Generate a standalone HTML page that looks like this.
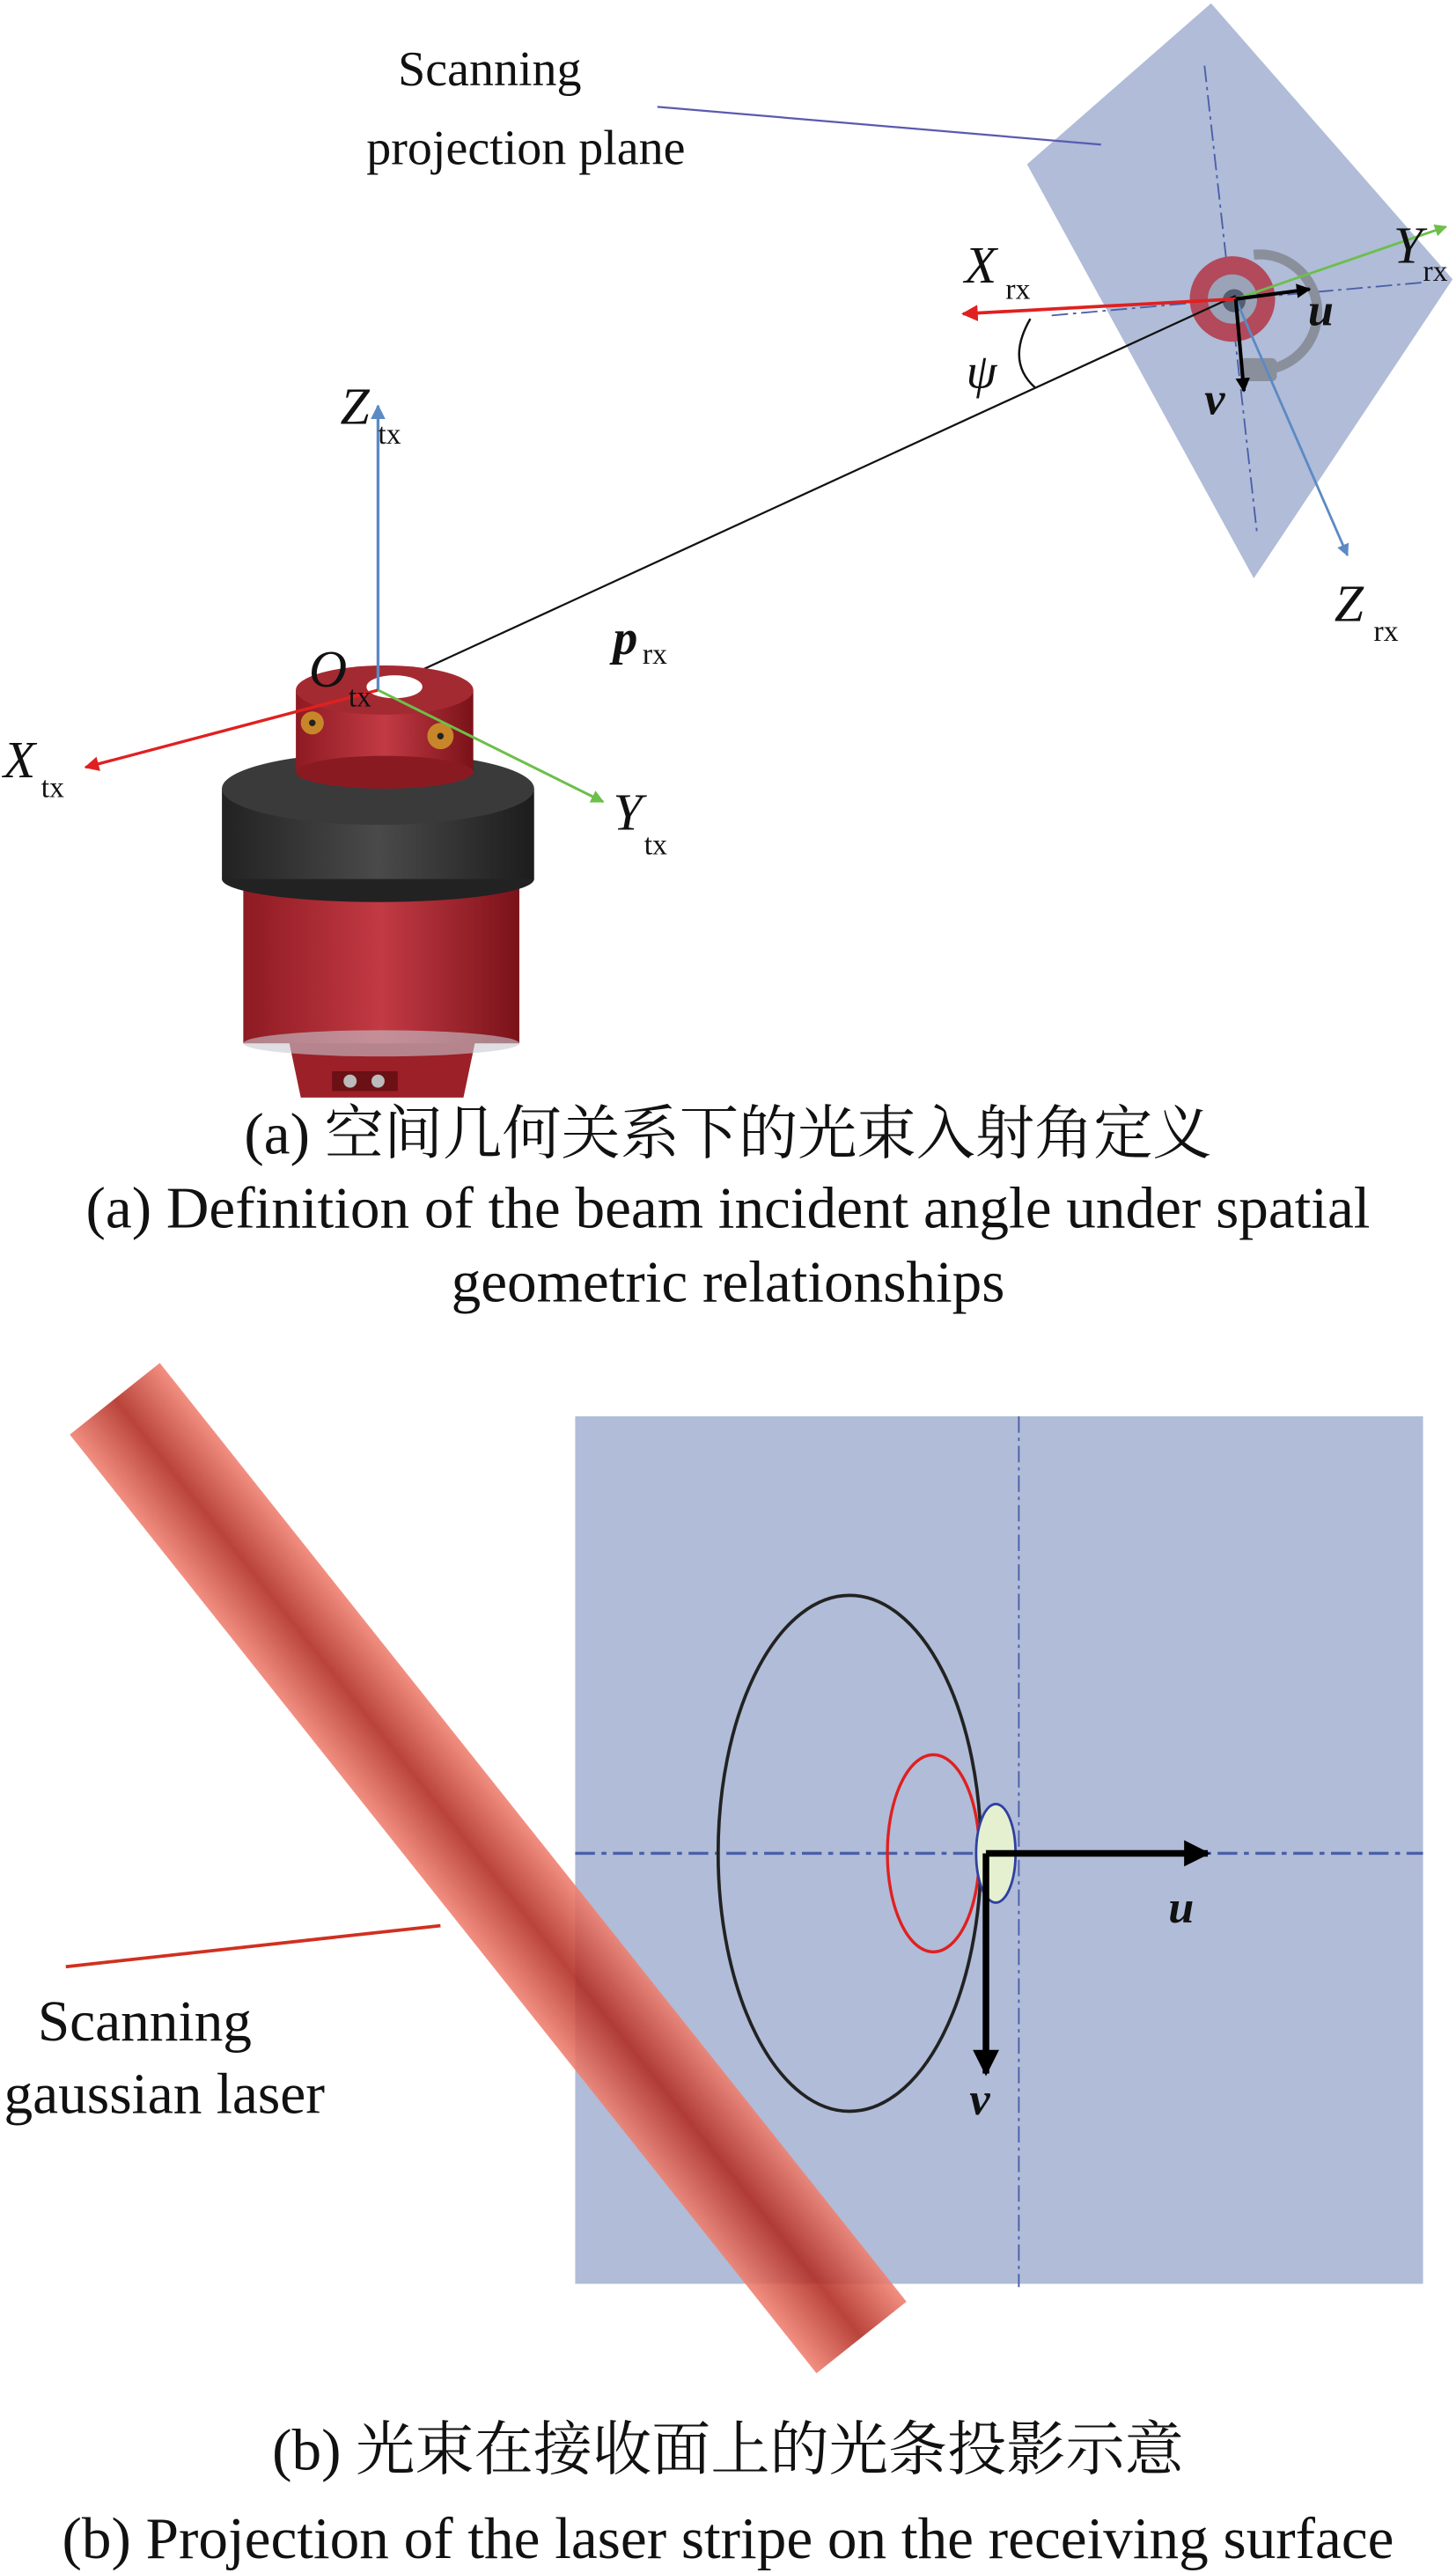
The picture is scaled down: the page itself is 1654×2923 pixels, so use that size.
<!DOCTYPE html>
<html><head><meta charset="utf-8"><style>
html,body{margin:0;padding:0;background:#fff;}
svg{display:block;}
text{font-family:"Liberation Serif","Noto Serif CJK SC",serif;fill:#111;}
.it{font-style:italic;}
</style></head><body>
<svg width="1654" height="2923" viewBox="0 0 886 1566" xmlns="http://www.w3.org/2000/svg">
<defs>
<marker id="ar" viewBox="0 0 10 10" refX="9" refY="5" markerWidth="5" markerHeight="5" orient="auto"><path d="M0,0L10,5L0,10z" fill="#e02020"/></marker>
<marker id="ag" viewBox="0 0 10 10" refX="9" refY="5" markerWidth="5" markerHeight="5" orient="auto"><path d="M0,0L10,5L0,10z" fill="#6cbf4a"/></marker>
<marker id="abl" viewBox="0 0 10 10" refX="9" refY="5" markerWidth="5" markerHeight="5" orient="auto"><path d="M0,0L10,5L0,10z" fill="#5b8ac4"/></marker>
<marker id="ak" viewBox="0 0 10 10" refX="9" refY="5" markerWidth="4" markerHeight="4" orient="auto"><path d="M0,0L10,5L0,10z" fill="#000"/></marker>
<linearGradient id="red" x1="0" x2="1"><stop offset="0" stop-color="#8e1a22"/><stop offset="0.5" stop-color="#c23a44"/><stop offset="1" stop-color="#7a1219"/></linearGradient>
<linearGradient id="blk" x1="0" x2="1"><stop offset="0" stop-color="#222"/><stop offset="0.5" stop-color="#4a4a4a"/><stop offset="1" stop-color="#1c1c1c"/></linearGradient>
<linearGradient id="beam" x1="0" x2="1"><stop offset="0" stop-color="#f08070"/><stop offset="0.5" stop-color="#b02a20"/><stop offset="1" stop-color="#f08070"/></linearGradient>
</defs>

<!-- Part a: projection plane -->
<polygon points="737,2 884,170 763,352 625,100" fill="#b0bcd8"/>
<line x1="733" y1="40" x2="765" y2="325" stroke="#4a5fa8" stroke-width="1" stroke-dasharray="10,3,2,3"/>
<line x1="640" y1="192" x2="865" y2="172" stroke="#4a5fa8" stroke-width="1" stroke-dasharray="10,3,2,3"/>
<line x1="400" y1="65" x2="670" y2="88" stroke="#5a5ab0" stroke-width="1.2"/>
<text x="298" y="52" font-size="30" text-anchor="middle">Scanning</text>
<text x="320" y="100" font-size="30" text-anchor="middle">projection plane</text>
<!-- receiver -->
<path d="M763,155 A32,32 0 0 1 770,225" stroke="#8a8f9c" stroke-width="6" fill="none"/>
<rect x="755" y="218" width="22" height="14" fill="#8a8f9c" rx="3"/>
<circle cx="750" cy="182" r="26" fill="#b24a5c"/>
<circle cx="750" cy="182" r="15" fill="#9aa3b8"/>
<circle cx="751" cy="183" r="7" fill="#555d70"/>
<line x1="752" y1="180" x2="230" y2="420" stroke="#111" stroke-width="1.2"/>
<line x1="752" y1="182" x2="586" y2="191" stroke="#e02020" stroke-width="2" marker-end="url(#ar)"/>
<line x1="752" y1="182" x2="880" y2="138" stroke="#6cbf4a" stroke-width="1.5" marker-end="url(#ag)"/>
<line x1="752" y1="182" x2="820" y2="338" stroke="#5b8ac4" stroke-width="1.5" marker-end="url(#abl)"/>
<line x1="752" y1="182" x2="797" y2="176" stroke="#000" stroke-width="2.2" marker-end="url(#ak)"/>
<line x1="752" y1="182" x2="757" y2="238" stroke="#000" stroke-width="2.2" marker-end="url(#ak)"/>
<path d="M627,194 Q612,220 630,236" stroke="#111" stroke-width="1.3" fill="none"/>
<text x="587" y="172" font-size="32" class="it">X</text><text x="612" y="182" font-size="18">rx</text>
<text x="848" y="160" font-size="32" class="it">Y</text><text x="866" y="171" font-size="18">rx</text>
<text x="812" y="378" font-size="32" class="it">Z</text><text x="836" y="390" font-size="18">rx</text>
<text x="796" y="198" font-size="28" class="it" font-weight="bold">u</text>
<text x="733" y="252" font-size="28" class="it" font-weight="bold">v</text>
<text x="588" y="236" font-size="30" class="it">ψ</text>

<!-- transmitter device -->
<path d="M175,630 L290,630 L282,668 L183,668 Z" fill="#9c2028"/>
<rect x="148" y="535" width="168" height="100" fill="url(#red)"/>
<ellipse cx="232" cy="635" rx="84" ry="8" fill="#c8c8d0" opacity="0.6"/>
<rect x="202" y="652" width="40" height="12" fill="#6b1015"/>
<circle cx="213" cy="658" r="4" fill="#bbb"/><circle cx="230" cy="658" r="4" fill="#bbb"/>
<ellipse cx="230" cy="535" rx="95" ry="14" fill="#222"/>
<rect x="135" y="480" width="190" height="55" fill="url(#blk)"/>
<ellipse cx="230" cy="480" rx="95" ry="22" fill="#3a3a3a"/>
<rect x="180" y="420" width="108" height="50" fill="url(#red)"/>
<ellipse cx="234" cy="470" rx="54" ry="10" fill="#8a1a22"/>
<ellipse cx="234" cy="420" rx="54" ry="15" fill="#a42a32"/>
<ellipse cx="240" cy="418" rx="17" ry="7" fill="#fff"/>
<circle cx="190" cy="440" r="7" fill="#c8862a"/><circle cx="190" cy="440" r="2" fill="#222"/>
<circle cx="268" cy="448" r="8" fill="#c8862a"/><circle cx="268" cy="448" r="2" fill="#222"/>
<line x1="230" y1="420" x2="230" y2="247" stroke="#5b8ac4" stroke-width="1.8" marker-end="url(#abl)"/>
<line x1="230" y1="420" x2="52" y2="467" stroke="#e02020" stroke-width="1.8" marker-end="url(#ar)"/>
<line x1="230" y1="420" x2="367" y2="488" stroke="#6cbf4a" stroke-width="1.6" marker-end="url(#ag)"/>
<text x="207" y="258" font-size="32" class="it">Z</text><text x="230" y="270" font-size="18">tx</text>
<text x="188" y="418" font-size="32" class="it">O</text><text x="212" y="430" font-size="18">tx</text>
<text x="2" y="473" font-size="32" class="it">X</text><text x="25" y="485" font-size="18">tx</text>
<text x="373" y="505" font-size="32" class="it">Y</text><text x="392" y="520" font-size="18">tx</text>
<text x="373" y="398" font-size="30" class="it" font-weight="bold">p</text><text x="391" y="404" font-size="18">rx</text>

<text x="443" y="702" font-size="36" text-anchor="middle">(a) 空间几何关系下的光束入射角定义</text>
<text x="443" y="747" font-size="36" text-anchor="middle">(a) Definition of the beam incident angle under spatial</text>
<text x="443" y="792" font-size="36" text-anchor="middle">geometric relationships</text>

<!-- Part b -->
<rect x="350" y="862" width="516" height="528" fill="#b0bcd8"/>
<line x1="620" y1="862" x2="620" y2="1392" stroke="#4a5fa8" stroke-width="1" stroke-dasharray="10,3,2,3"/>
<line x1="350" y1="1128" x2="866" y2="1128" stroke="#4a5fa8" stroke-width="1.8" stroke-dasharray="12,4,3,4"/>
<g transform="rotate(-38.5 297 1137)">
<rect x="262" y="772" width="70" height="730" fill="url(#beam)" opacity="0.88"/>
</g>
<line x1="40" y1="1197" x2="268" y2="1172" stroke="#d03020" stroke-width="2"/>
<ellipse cx="517" cy="1128" rx="80" ry="157" fill="none" stroke="#222" stroke-width="2"/>
<ellipse cx="568" cy="1128" rx="28" ry="60" fill="none" stroke="#e02020" stroke-width="1.8"/>
<ellipse cx="606" cy="1128" rx="12" ry="30" fill="#e4f0d0" stroke="#3040a0" stroke-width="1.5"/>
<line x1="600" y1="1128" x2="735" y2="1128" stroke="#000" stroke-width="4" marker-end="url(#ak)"/>
<line x1="600" y1="1128" x2="600" y2="1262" stroke="#000" stroke-width="4" marker-end="url(#ak)"/>
<text x="711" y="1170" font-size="28" class="it" font-weight="bold">u</text>
<text x="590" y="1287" font-size="28" class="it" font-weight="bold">v</text>
<text x="88" y="1242" font-size="35" text-anchor="middle">Scanning</text>
<text x="100" y="1286" font-size="35" text-anchor="middle">gaussian laser</text>

<text x="443" y="1503" font-size="36" text-anchor="middle">(b) 光束在接收面上的光条投影示意</text>
<text x="443" y="1557" font-size="36" text-anchor="middle">(b) Projection of the laser stripe on the receiving surface</text>
</svg>
</body></html>
